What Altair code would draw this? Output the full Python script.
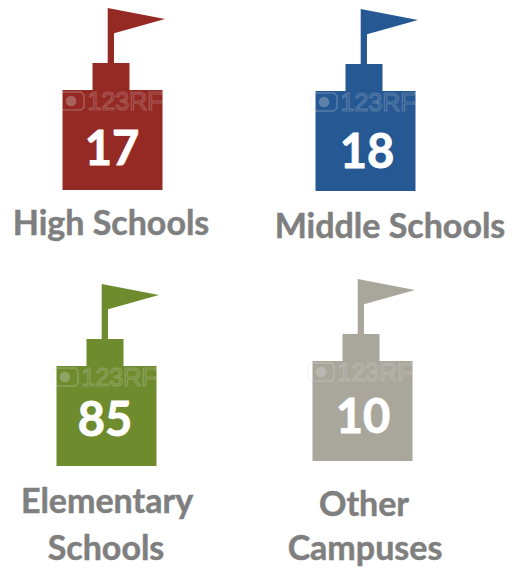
import altair as alt
import pandas as pd

# Campus counts
campuses = ["High Schools", "Middle Schools", "Elementary Schools", "Other Campuses"]
counts = [17, 18, 85, 10]
caption_lines = [["High Schools"], ["Middle Schools"], ["Elementary", "Schools"], ["Other", "Campuses"]]

# Layout of the four tiles on the page, and their palette
tile_centres = {
    "High Schools": (112.5, 140),
    "Middle Schools": (365.5, 141),
    "Elementary Schools": (106.5, 416),
    "Other Campuses": (362.5, 411),
}
count_centres = {
    "High Schools": (112, 165),
    "Middle Schools": (367, 168),
    "Elementary Schools": (105, 436),
    "Other Campuses": (363, 433),
}
caption_positions = {
    "High Schools": [(111, 235)],
    "Middle Schools": [(390, 238)],
    "Elementary Schools": [(107, 513), (106, 560)],
    "Other Campuses": [(364, 516), (365, 560)],
}
palette = ["#952A25", "#265893", "#6E8B2E", "#A9A69C"]

# School-building glyph, in pixels around the centre of the main block
BUILDING = (
    "M-50,50 L-50,-50 L-20,-50 L-20,-77 L-4.8,-77 L-4.8,-132 L52.5,-121 "
    "L1.5,-106.7 L1.5,-77 L17,-77 L17,-50 L50,-50 L50,50 Z"
)
STAMP_FRAME = "M-10,-9 L10,-9 L13,-6 L13,6 L10,9 L-10,9 L-13,6 L-13,-6 Z"

tiles = pd.DataFrame({
    "campus": campuses,
    "count": counts,
    "cx": [tile_centres[c][0] for c in campuses],
    "cy": [tile_centres[c][1] for c in campuses],
    "count_x": [count_centres[c][0] for c in campuses],
    "count_y": [count_centres[c][1] for c in campuses],
})
tiles["mark_x"] = tiles["cx"] + 12.5
tiles["mark_y"] = tiles["cy"] - 30
tiles["badge_x"] = tiles["cx"] - 41.5
tiles["badge_y"] = tiles["cy"] - 39

captions = pd.DataFrame([
    {"line": line, "x": x, "y": y}
    for c, lines in zip(campuses, caption_lines)
    for line, (x, y) in zip(lines, caption_positions[c])
])

x_page = alt.Scale(domain=[0, 520], range=[0, 520], nice=False, zero=False)
y_page = alt.Scale(domain=[0, 569], range=[0, 569], nice=False, zero=False)


def px(field):
    return alt.X(f"{field}:Q", scale=x_page, axis=None)


def py(field):
    return alt.Y(f"{field}:Q", scale=y_page, axis=None)


buildings = alt.Chart(tiles).mark_point(
    shape=BUILDING, filled=True, size=4, opacity=1
).encode(
    x=px("cx"),
    y=py("cy"),
    color=alt.Color("campus:N", scale=alt.Scale(domain=campuses, range=palette), legend=None),
)

# Faint stock-image stamp across the top of each block
stamp_text = alt.Chart(tiles).transform_calculate(stamp="'123RF'").mark_text(
    font="Liberation Sans", fontSize=25, align="center", baseline="alphabetic",
    fillOpacity=0.0, stroke="#e2e2e2", strokeOpacity=0.26, strokeWidth=1.2,
).encode(x=px("mark_x"), y=py("mark_y"), text="stamp:N")

stamp_frame = alt.Chart(tiles).mark_point(
    shape=STAMP_FRAME, filled=False, size=4, color="#e2e2e2", strokeWidth=1.5, opacity=0.26
).encode(x=px("badge_x"), y=py("badge_y"))

stamp_disc = alt.Chart(tiles).mark_point(
    shape="circle", filled=True, size=110, color="#e2e2e2", opacity=0.3
).encode(x=px("badge_x"), y=py("badge_y"))

count_labels = alt.Chart(tiles).mark_text(
    font="Lato", fontWeight="bold", fontSize=47, color="#ffffff",
    stroke="#ffffff", strokeWidth=0.9,
    align="center", baseline="alphabetic",
).encode(x=px("count_x"), y=py("count_y"), text="count:Q")

caption_labels = alt.Chart(captions).mark_text(
    font="Lato", fontWeight="bold", fontSize=34, color="#7F7F7F",
    stroke="#7F7F7F", strokeWidth=0.5,
    align="center", baseline="alphabetic",
).encode(x=px("x"), y=py("y"), text="line:N")

chart = (
    alt.layer(buildings, stamp_frame, stamp_disc, stamp_text, count_labels, caption_labels)
    .properties(width=520, height=569, padding=0, background="#ffffff")
    .configure_view(stroke=None)
)

chart.save("out.html", embed_options={"renderer": "svg", "actions": False})
